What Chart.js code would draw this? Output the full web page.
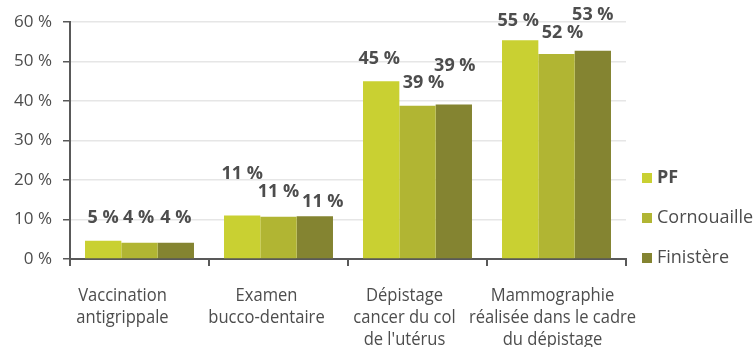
<!DOCTYPE html>
<html>
<head>
<meta charset="utf-8">
<style>
  body { margin: 0; background: #fff; }
</style>
</head>
<body>
<canvas id="chart" width="754" height="347"></canvas>

<script src="https://cdn.jsdelivr.net/npm/chart.js"></script>

<script>
  // categories (multi-line labels) and the three series, in percent
  const categories = [
    ['Vaccination', 'antigrippale'],
    ['Examen', 'bucco-dentaire'],
    ['Dépistage', 'cancer du col', "de l'utérus"],
    ['Mammographie', 'réalisée dans le cadre', 'du dépistage']
  ];
  const seriesNames = ['PF', 'Cornouaille', 'Finistère'];
  const pf = [4.6, 11.0, 45.0, 55.4];
  const cornouaille = [4.1, 10.7, 38.8, 51.9];
  const finistere = [4.1, 10.8, 39.1, 52.7];
  const yMax = 60;
  const yStep = 10;

  const colors = ['#c9d032', '#b1b533', '#848431'];
  const textColor = '#4d4d4d';
  const axisColor = '#595959';

  // nudges for the value labels (px from the top centre of each bar)
  const labelDx = [[0, 0, -2, -2], [-1, 0, 6, 6], [0, 8, 1, 0]];
  const labelDy = [[-23, -42, -22, -19], [-25, -25, -23, -21], [-25, -14, -39, -36]];
  // category names sit a little left of their group centre
  const categoryDx = [-17, -12, -13, -4];

  const valueLabels = {
    id: 'valueLabels',
    afterDatasetsDraw(chart) {
      const ctx = chart.ctx;
      ctx.save();
      ctx.font = 'bold 18px "Open Sans"';
      ctx.fillStyle = textColor;
      ctx.textAlign = 'center';
      ctx.textBaseline = 'middle';
      chart.data.datasets.forEach((ds, i) => {
        chart.getDatasetMeta(i).data.forEach((bar, j) => {
          ctx.fillText(Math.round(ds.data[j]) + ' %', bar.x + labelDx[i][j], bar.y + labelDy[i][j]);
        });
      });
      ctx.restore();
    }
  };

  // multi-line category names under the axis, slightly condensed
  const categoryLabels = {
    id: 'categoryLabels',
    afterDraw(chart) {
      const { ctx } = chart;
      const x = chart.scales.x;
      const squeeze = 0.92;
      ctx.save();
      ctx.font = '18px "Open Sans"';
      ctx.fillStyle = textColor;
      ctx.textAlign = 'center';
      ctx.textBaseline = 'alphabetic';
      categories.forEach((lines, i) => {
        const cx = x.getPixelForTick(i) + categoryDx[i];
        lines.forEach((line, k) => {
          ctx.save();
          ctx.translate(cx, x.top + 42 + k * 22);
          ctx.scale(squeeze, 1);
          ctx.fillText(line, 0, 0);
          ctx.restore();
        });
      });
      ctx.restore();
    }
  };

  // legend at the lower right, first entry in bold
  const sideLegend = {
    id: 'sideLegend',
    afterDraw(chart) {
      const { ctx, chartArea } = chart;
      const x = chartArea.right + 16;
      ctx.save();
      ctx.textBaseline = 'middle';
      chart.data.datasets.forEach((ds, i) => {
        const y = chartArea.bottom - 81 + i * 40;
        ctx.fillStyle = ds.backgroundColor;
        ctx.fillRect(x, y - 5, 10, 10);
        ctx.font = (i === 0 ? 'bold ' : '') + '18px "Open Sans"';
        ctx.fillStyle = textColor;
        ctx.fillText(ds.label, x + 15, y);
      });
      ctx.restore();
    }
  };

  new Chart(document.getElementById('chart'), {
    type: 'bar',
    data: {
      labels: categories,
      datasets: [
        { label: seriesNames[0], data: pf, backgroundColor: colors[0] },
        { label: seriesNames[1], data: cornouaille, backgroundColor: colors[1] },
        { label: seriesNames[2], data: finistere, backgroundColor: colors[2] }
      ]
    },
    options: {
      responsive: false,
      animation: false,
      layout: { padding: { top: 22, right: 128, left: 0, bottom: 0 } },
      datasets: { bar: { categoryPercentage: 0.784, barPercentage: 1 } },
      plugins: { legend: { display: false }, tooltip: { enabled: false } },
      scales: {
        x: {
          grid: { drawOnChartArea: false, tickLength: 7, tickColor: axisColor, lineWidth: 2 },
          border: { color: axisColor, width: 2 },
          ticks: { display: false },
          afterFit: s => { s.height = 88; }
        },
        y: {
          min: 0,
          max: yMax,
          ticks: {
            stepSize: yStep,
            padding: 11,
            color: textColor,
            font: { family: '"Open Sans"', size: 17 },
            callback: v => v + ' %'
          },
          grid: { color: '#e6e6e6', lineWidth: 1.5, tickLength: 7, tickColor: axisColor },
          border: { color: axisColor, width: 2 },
          afterFit: s => { s.width = 70; }
        }
      }
    },
    plugins: [valueLabels, categoryLabels, sideLegend]
  });
</script>
</body>
</html>
